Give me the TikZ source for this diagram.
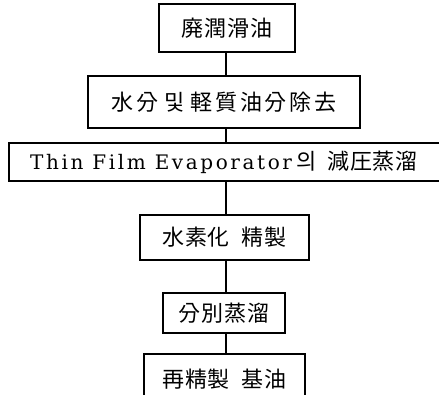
\documentclass[tikz,border=0pt]{standalone}
\usepackage{fontspec}
\newfontfamily\cjk{Noto Sans CJK KR}[LetterSpace=4]
\newfontfamily\cjkw{Noto Sans CJK KR}[LetterSpace=12]
\newfontfamily\latw{DejaVu Serif}[LetterSpace=13]
\begin{document}
\begin{tikzpicture}[x=1pt,y=-1pt,
  box/.style={draw, line width=1.5pt, inner sep=0pt, font=\cjk\fontsize{22}{26}\selectfont},
  conn/.style={line width=1.3pt}]
\useasboundingbox (0,0) rectangle (439,394);
\node[box, minimum width=136pt, minimum height=48pt] (b1) at (227,28) {廃潤滑油};
\node[box, minimum width=272pt, minimum height=52pt] (b2) at (224,102) {\cjkw 水分\hspace{6pt}및\hspace{6pt}軽質油分除去};
\node[box, minimum width=440pt, minimum height=38pt] (b3) at (229,162) {\hspace{-10pt}{\latw\fontsize{20}{24}\selectfont Thin Film Evaporator}\hspace{5pt}의\hspace{10pt}減圧蒸溜};
\node[box, minimum width=169pt, minimum height=45pt] (b4) at (224.5,237.5) {水素化\hspace{12pt}精製};
\node[box, minimum width=122pt, minimum height=40pt] (b5) at (224,313) {分別蒸溜};
\node[box, minimum width=161pt, minimum height=50pt] (b6) at (224.5,379) {再精製\hspace{12pt}基油};
\coordinate (x) at (226,0);
\draw[conn] (x |- b1.south) -- (x |- b2.north);
\draw[conn] (x |- b2.south) -- (x |- b3.north);
\draw[conn] (x |- b3.south) -- (x |- b4.north);
\draw[conn] (x |- b4.south) -- (x |- b5.north);
\draw[conn] (x |- b5.south) -- (x |- b6.north);
\end{tikzpicture}
\end{document}
